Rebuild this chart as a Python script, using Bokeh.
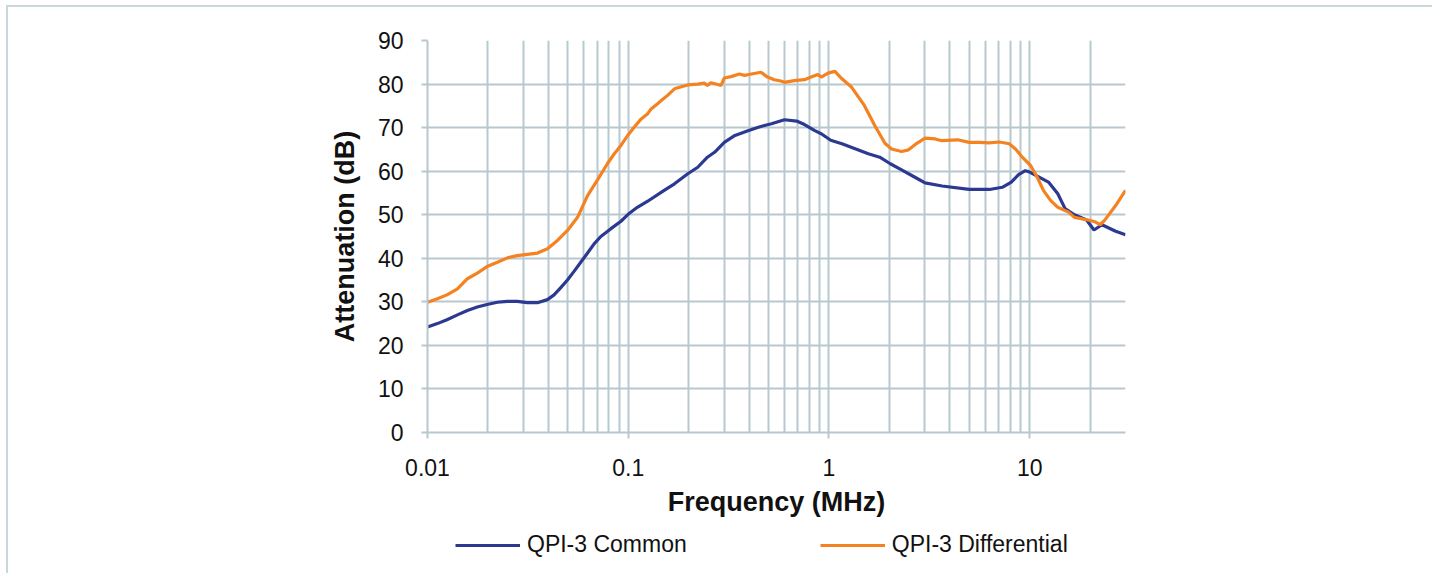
from bokeh.plotting import figure
from bokeh.layouts import column
from bokeh.models import (Range1d, FixedTicker, Legend, LegendItem)
from bokeh.embed import file_html
from bokeh.resources import INLINE

# ---------------- data ----------------
freq_common = [0.01, 0.0112, 0.0125, 0.0141, 0.0158, 0.0177, 0.0198, 0.0223, 0.025, 0.028,
               0.0314, 0.0353, 0.0396, 0.0427, 0.046, 0.0498, 0.0537, 0.058, 0.0627, 0.0676,
               0.073, 0.082, 0.092, 0.101, 0.111, 0.125, 0.151, 0.17, 0.198, 0.222,
               0.248, 0.27, 0.301, 0.34, 0.395, 0.445, 0.517, 0.60, 0.69, 0.755,
               0.85, 0.915, 1.02, 1.16, 1.29, 1.57, 1.79, 2.02, 2.30, 2.68,
               3.01, 3.66, 4.99, 6.3, 7.3, 8.1, 8.8, 9.5, 10.0, 12.4,
               13.8, 15.0, 16.7, 19.2, 20.9, 22.9, 26.8, 30.0]
atten_common = [24.2, 25.0, 25.9, 27.0, 28.0, 28.8, 29.4, 29.9, 30.1, 30.1,
                29.8, 29.8, 30.5, 31.6, 33.2, 35.0, 37.0, 39.1, 41.2, 43.3,
                45.0, 46.8, 48.5, 50.3, 51.7, 53.1, 55.6, 57.1, 59.4, 60.9,
                63.2, 64.4, 66.6, 68.2, 69.3, 70.1, 70.9, 71.8, 71.5, 70.7,
                69.3, 68.6, 67.1, 66.3, 65.5, 64.0, 63.2, 61.7, 60.3, 58.6,
                57.3, 56.6, 55.8, 55.8, 56.3, 57.5, 59.2, 60.1, 59.8, 57.5,
                54.8, 51.4, 50.0, 48.8, 46.5, 47.7, 46.2, 45.4]

freq_diff = [0.01, 0.0112, 0.0125, 0.0141, 0.0158, 0.0177, 0.0198, 0.0223, 0.025, 0.028,
             0.0314, 0.0353, 0.0396, 0.0444, 0.0498, 0.0559, 0.0627, 0.0703, 0.0787, 0.0852,
             0.092, 0.0994, 0.107, 0.116, 0.125, 0.130, 0.140, 0.146, 0.157, 0.170,
             0.184, 0.198, 0.222, 0.239, 0.248, 0.258, 0.279, 0.290, 0.301, 0.325,
             0.358, 0.380, 0.411, 0.458, 0.494, 0.534, 0.576, 0.599, 0.672, 0.755,
             0.815, 0.880, 0.915, 0.990, 1.07, 1.16, 1.29, 1.50, 1.69, 1.90,
             2.05, 2.30, 2.49, 2.74, 3.01, 3.38, 3.65, 4.38, 4.99, 5.60,
             6.28, 7.05, 7.9, 8.5, 9.18, 10.1, 10.9, 11.7, 12.7, 13.8,
             15.6, 16.7, 19.5, 21.1, 22.4, 23.6, 26.8, 30.0]
atten_diff = [29.9, 30.7, 31.6, 33.0, 35.3, 36.6, 38.1, 39.1, 40.1, 40.6,
              40.9, 41.2, 42.2, 44.1, 46.4, 49.4, 54.4, 58.0, 61.7, 64.0,
              65.9, 68.2, 70.1, 72.0, 73.2, 74.3, 75.5, 76.2, 77.4, 78.9,
              79.4, 79.8, 80.0, 80.2, 79.7, 80.3, 79.9, 79.7, 81.4, 81.7,
              82.3, 82.0, 82.3, 82.7, 81.6, 81.0, 80.7, 80.4, 80.8, 81.0,
              81.6, 82.2, 81.6, 82.5, 82.9, 81.2, 79.4, 75.1, 70.5, 66.4,
              65.1, 64.5, 64.9, 66.4, 67.6, 67.4, 67.0, 67.2, 66.6, 66.6,
              66.5, 66.7, 66.3, 65.1, 63.2, 61.3, 58.6, 55.6, 53.3, 51.7,
              50.6, 49.4, 48.8, 48.4, 47.7, 48.7, 52.1, 55.6]

x_major = [0.01, 0.1, 1, 10]
x_labels = ["0.01", "0.1", "1", "10"]
x_minor = [m * d for d in (0.01, 0.1, 1, 10) for m in range(2, 10) if m * d <= 30.01]
y_ticks = list(range(0, 100, 10))

series_names = ["QPI-3 Common", "QPI-3 Differential"]
series_colors = ["#2B3990", "#F58220"]
series_freq = [freq_common, freq_diff]
series_atten = [atten_common, atten_diff]

# ---------------- figure ----------------
GRID = "#B7C8CF"
FONT = "Liberation Sans"

p = figure(frame_width=698, frame_height=392, x_axis_type="log",
           x_range=Range1d(0.01, 30), y_range=Range1d(0, 90),
           output_backend="svg", toolbar_location=None,
           min_border_left=419, min_border_right=307,
           min_border_top=33, min_border_bottom=95)
p.outline_line_color = None
p.background_fill_color = "white"
p.border_fill_color = "white"

# x axis
xa = p.xaxis[0]
xa.ticker = FixedTicker(ticks=x_major, minor_ticks=x_minor)
xa.major_label_overrides = {v: s for v, s in zip(x_major, x_labels)}
xa.axis_line_color = GRID
xa.axis_line_width = 2
xa.major_tick_line_color = GRID
xa.major_tick_line_width = 2
xa.major_tick_out = 6
xa.major_tick_in = 0
xa.minor_tick_line_color = None
xa.major_label_text_font = FONT
xa.major_label_text_font_size = "23px"
xa.major_label_text_color = "#111111"
xa.major_label_standoff = 20
xa.axis_label = "Frequency (MHz)"
xa.axis_label_text_font = FONT
xa.axis_label_text_font_size = "27px"
xa.axis_label_text_font_style = "bold"
xa.axis_label_text_color = "#111111"
xa.axis_label_standoff = 8

# y axis
ya = p.yaxis[0]
ya.ticker = FixedTicker(ticks=y_ticks)
ya.axis_line_color = GRID
ya.axis_line_width = 2
ya.major_tick_line_color = GRID
ya.major_tick_line_width = 2
ya.major_tick_out = 6
ya.major_tick_in = 0
ya.minor_tick_line_color = None
ya.major_label_text_font = FONT
ya.major_label_text_font_size = "23px"
ya.major_label_text_color = "#111111"
ya.major_label_standoff = 18
ya.axis_label = "Attenuation (dB)"
ya.axis_label_text_font = FONT
ya.axis_label_text_font_size = "27px"
ya.axis_label_text_font_style = "bold"
ya.axis_label_text_color = "#111111"
ya.axis_label_standoff = 15

# grids
p.xgrid.grid_line_color = GRID
p.xgrid.grid_line_width = 2
p.xgrid.minor_grid_line_color = GRID
p.xgrid.minor_grid_line_width = 2
p.ygrid.grid_line_color = GRID
p.ygrid.grid_line_width = 2

# series
for fx, ay, c in zip(series_freq, series_atten, series_colors):
    p.line(fx, ay, line_color=c, line_width=3.2)

# ---------------- legend strip ----------------
# (its frame is aligned with the main plot's frame by the column layout)
leg = figure(width=1424, height=46, x_range=Range1d(0, 1), y_range=Range1d(0, 1),
             output_backend="svg", toolbar_location=None,
             x_axis_location=None, y_axis_location=None,
             min_border=0)
leg.outline_line_color = None
leg.xgrid.visible = False
leg.ygrid.visible = False
# legend-only renderers: the series data falls outside this strip's 0..1 ranges
leg_renderers = [leg.line(fx, ay, line_color=c, line_width=3.2)
                 for fx, ay, c in zip(series_freq, series_atten, series_colors)]
legend = Legend(items=[LegendItem(label=n, renderers=[r])
                       for n, r in zip(series_names, leg_renderers)],
                location=(28, 15), orientation="horizontal",
                spacing=133, glyph_width=65, glyph_height=24, label_height=24,
                label_standoff=7,
                label_text_font=FONT, label_text_font_size="23px",
                label_text_color="#111111",
                padding=0, margin=0, border_line_alpha=0, background_fill_alpha=0)
leg.add_layout(legend)

page = column(p, leg, spacing=0)
page.styles = {"margin-top": "5px", "margin-left": "6px",
               "border-top": "2px solid #C9D6DC", "border-left": "2px solid #C9D6DC"}

open("out.html", "w").write(file_html(page, INLINE))
